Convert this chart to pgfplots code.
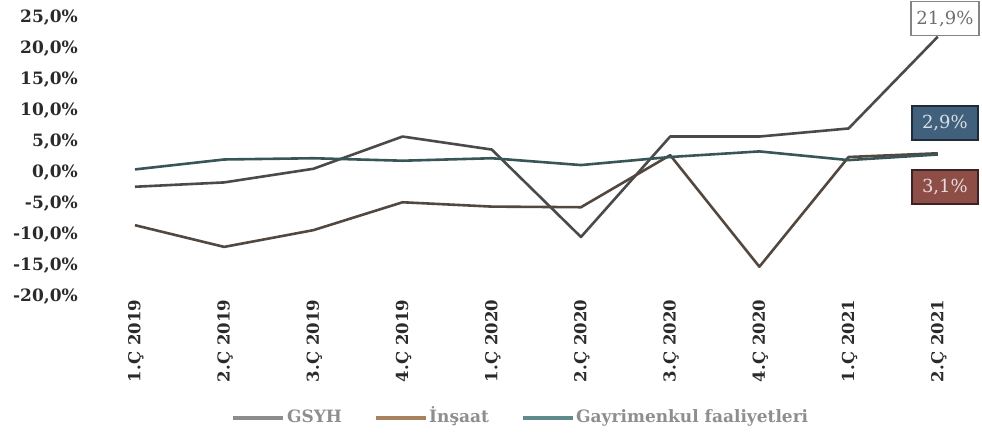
\documentclass[border=0pt]{standalone}
\usepackage{fontspec}
\setmainfont{DejaVu Serif}
\usepackage{pgfplots}
\pgfplotsset{compat=1.18}

\definecolor{gsyhline}{HTML}{4A4A4A}
\definecolor{insline}{HTML}{524840}
\definecolor{gayline}{HTML}{385658}
\definecolor{gsyhleg}{HTML}{8C8C8C}
\definecolor{insleg}{HTML}{A8825E}
\definecolor{gayleg}{HTML}{5F8A8C}
\definecolor{legtext}{HTML}{8E8E8E}
\definecolor{ticktext}{HTML}{2A2A2A}
\definecolor{boxgray}{HTML}{858585}
\definecolor{boxtext}{HTML}{6E6E6E}
\definecolor{bluefill}{HTML}{41607B}
\definecolor{blueedge}{HTML}{1E2B38}
\definecolor{redfill}{HTML}{8E4E48}
\definecolor{rededge}{HTML}{3C2222}

\begin{document}
\begin{tikzpicture}
\useasboundingbox (0,0) rectangle (982pt,439pt);
\begin{axis}[
  at={(99.3pt,142.5pt)}, anchor=south west,
  scale only axis, width=878.6pt, height=279pt,
  xmin=-0.4, xmax=9.45, ymin=-20, ymax=25,
  clip=false,
  axis line style={draw=none},
  tick style={draw=none},
  xtick={0,...,9},
  xticklabels={1.Ç 2019,2.Ç 2019,3.Ç 2019,4.Ç 2019,1.Ç 2020,2.Ç 2020,3.Ç 2020,4.Ç 2020,1.Ç 2021,2.Ç 2021},
  xticklabel style={rotate=90, anchor=east, font=\fontsize{16.5}{16.5}\selectfont\bfseries, text=ticktext, yshift=-1pt},
  ytick={-20,-15,...,25},
  /pgf/number format/.cd, fixed, fixed zerofill, precision=1, use comma, assume math mode=true,
  /pgfplots/.cd,
  yticklabel={\pgfmathprintnumber{\tick}\%},
  yticklabel style={font=\fontsize{17}{17}\selectfont\bfseries, text=ticktext, xshift=-18pt},
  legend style={at={(0.48,-0.4355)}, anchor=center, draw=none, fill=none,
    font=\fontsize{17}{17}\selectfont\bfseries, text=legtext,
    nodes={text height=12pt, text depth=4pt},
    /tikz/every even column/.append style={column sep=30pt}},
  legend columns=3,
  legend image code/.code={\draw[#1] (0pt,0pt) -- (50pt,0pt);},
]
% quarterly growth rates, %
\addplot[gsyhline, line width=2.6pt, line join=round, forget plot] coordinates {
  (0,-2.3) (1,-1.6) (2,0.6) (3,5.8) (4,3.7) (5,-10.4) (6,5.8) (7,5.8) (8,7.1) (9,21.9)};
\addplot[insline, line width=2.6pt, line join=round, forget plot] coordinates {
  (0,-8.5) (1,-12.0) (2,-9.3) (3,-4.8) (4,-5.5) (5,-5.6) (6,2.8) (7,-15.2) (8,2.5) (9,3.1)};
\addplot[gayline, line width=2.6pt, line join=round, forget plot] coordinates {
  (0,0.5) (1,2.1) (2,2.3) (3,1.9) (4,2.3) (5,1.2) (6,2.5) (7,3.4) (8,2.0) (9,2.9)};

\addlegendimage{gsyhleg, line width=3.2pt}
\addlegendentry{GSYH}
\addlegendimage{insleg, line width=3.2pt}
\addlegendentry{İnşaat}
\addlegendimage{gayleg, line width=3.2pt}
\addlegendentry{Gayrimenkul faaliyetleri}

% value labels for the last quarter
\node[draw=boxgray, line width=1.5pt, fill=white, text=boxtext,
  font=\fontsize{18}{18}\selectfont, minimum width=68pt, minimum height=34pt, inner sep=2pt]
  at (axis cs:9.08,24.8) {21,9\%};
\node[draw=blueedge, line width=2pt, fill=bluefill, text=white!80!bluefill,
  font=\fontsize{18}{18}\selectfont, minimum width=66pt, minimum height=34pt, inner sep=2pt]
  at (axis cs:9.08,8.0) {2,9\%};
\node[draw=rededge, line width=2pt, fill=redfill, text=white!80!redfill,
  font=\fontsize{18}{18}\selectfont, minimum width=66pt, minimum height=34pt, inner sep=2pt]
  at (axis cs:9.08,-2.3) {3,1\%};
\end{axis}
\end{tikzpicture}
\end{document}
